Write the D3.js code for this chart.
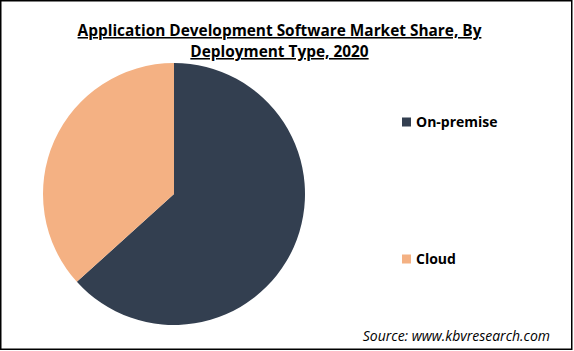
<!DOCTYPE html>
<html>
<head>
  <meta charset="utf-8">
  <script src="https://d3js.org/d3.v7.min.js"></script>
  <style>
    body { margin: 0; background: #fff; }
  </style>
</head>
<body>
  <svg id="chart" width="574" height="351"></svg>

  <script>
    // Datos
    const categories = ["On-premise", "Cloud"];
    const values = [63.3, 36.7];
    const colors = ["#333f50", "#f4b183"];
    const titleLines = ["Application Development Software Market Share, By", "Deployment Type, 2020"];
    const sourceText = "Source: www.kbvresearch.com";

    const width = 574;
    const height = 351;
    const svg = d3.select("#chart");
    const font = "'Open Sans', sans-serif";

    // Borde
    svg.append("rect")
      .attr("x", 0.75).attr("y", 0.75)
      .attr("width", 571).attr("height", 348.5)
      .attr("fill", "none")
      .attr("stroke", "#000")
      .attr("stroke-width", 1.5);

    // Título
    const title = svg.append("text")
      .attr("text-anchor", "middle")
      .style("font-family", font)
      .style("font-weight", "bold")
      .style("font-size", "15.4px")
      .style("text-decoration", "underline")
      .attr("fill", "#000");
    titleLines.forEach((t, i) => {
      title.append("tspan")
        .attr("x", 279.5)
        .attr("y", 36 + i * 21)
        .text(t);
    });

    // Pie
    const pie = d3.pie().sort(null).value(d => d);
    const arc = d3.arc().innerRadius(0).outerRadius(131);
    const color = d3.scaleOrdinal().domain(categories).range(colors);

    svg.append("g")
      .attr("transform", "translate(174,194)")
      .selectAll("path")
      .data(pie(values))
      .enter()
      .append("path")
      .attr("d", arc)
      .attr("fill", (d, i) => color(categories[i]));

    // Leyenda
    const legendY = d3.scalePoint().domain(categories).range([122, 259]);
    const legend = svg.selectAll(".legend")
      .data(categories)
      .enter()
      .append("g")
      .attr("transform", d => `translate(402,${legendY(d)})`);

    legend.append("rect")
      .attr("x", 0).attr("y", -4.5)
      .attr("width", 9).attr("height", 9)
      .attr("fill", d => color(d));

    legend.append("text")
      .attr("x", 14)
      .attr("y", 0)
      .attr("dy", "0.35em")
      .style("font-family", font)
      .style("font-weight", "bold")
      .style("font-size", "14px")
      .attr("fill", "#000")
      .text(d => d);

    // Fuente
    svg.append("text")
      .attr("x", 550)
      .attr("y", 341)
      .attr("text-anchor", "end")
      .style("font-family", font)
      .style("font-style", "italic")
      .style("font-size", "14px")
      .attr("fill", "#000")
      .text(sourceText);
  </script>
</body>
</html>
